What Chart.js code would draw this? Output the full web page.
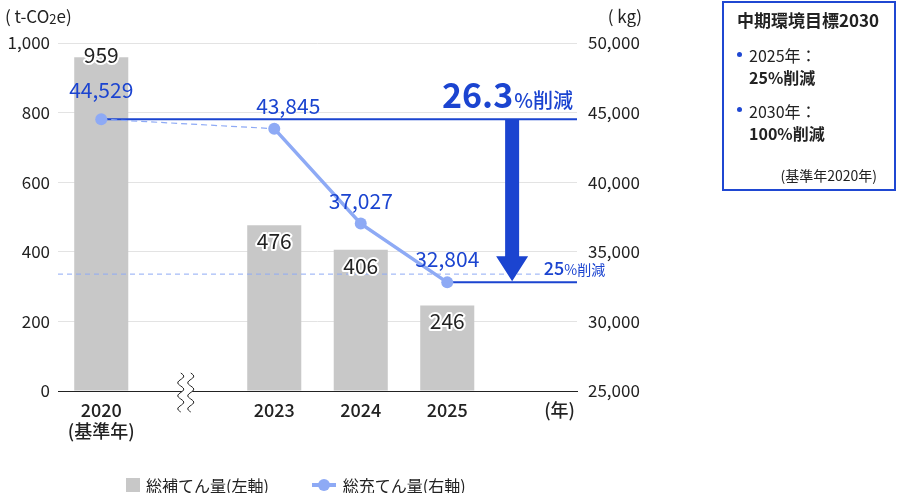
<!DOCTYPE html>
<html>
<head>
<meta charset="utf-8">
<title>総補てん量・総充てん量</title>
<script src="https://cdn.jsdelivr.net/npm/chart.js"></script>
<style>
  body { margin: 0; background: #fff; font-family: 'Noto Sans CJK JP', sans-serif; color: #222; }
  #wrap { position: relative; width: 898px; height: 493px; overflow: hidden; }
  #chart { position: absolute; left: 0; top: 0; }
  .target { position: absolute; left: 722px; top: 1px; width: 170px; height: 186px; border: 2px solid #1f47d2; }
  .target div { position: absolute; line-height: 20px; white-space: nowrap; }
  .target .ttl { left: 13px; top: 7px; font-size: 17px; font-weight: bold; }
  .target .dot { width: 5px; height: 5px; border-radius: 50%; background: #1f47d2; }
  .target .t { left: 25px; font-size: 16px; }
  .target .b { font-weight: bold; }
  .target .note { right: 17px; top: 162px; font-size: 14px; }
  #legend { position: absolute; left: 126px; top: 475px; height: 20px; display: flex; align-items: center; font-size: 16px; }
  #legend .item { display: flex; align-items: center; margin-right: 43px; }
  #legend .sq { width: 14px; height: 14px; background: #c8c8c8; margin-right: 6px; }
  #legend .ln { position: relative; width: 24px; height: 4px; background: #8eaaf5; margin-right: 7px; }
  #legend .ln::after { content: ''; position: absolute; left: 6px; top: -4px; width: 12px; height: 12px; border-radius: 50%; background: #8eaaf5; }
</style>
</head>
<body>
<div id="wrap">
  <canvas id="chart" width="898" height="493"></canvas>
  <div class="target">
    <div class="ttl">中期環境目標2030</div>
    <div class="dot" style="left:13px; top:49px;"></div>
    <div class="t" style="top:42px;">2025年：</div>
    <div class="t b" style="top:64px;">25%削減</div>
    <div class="dot" style="left:13px; top:104px;"></div>
    <div class="t" style="top:98px;">2030年：</div>
    <div class="t b" style="top:120px;">100%削減</div>
    <div class="note">(基準年2020年)</div>
  </div>
  <div id="legend"></div>
</div>

<script>
// データ
const years = ['2020', '', '2023', '2024', '2025', ''];
const yearNotes = ['(基準年)', '', '', '', '', ''];
const refill = [959, null, 476, 406, 246, null];          // 総補てん量 (t-CO2e)
const charge = [44529, null, 43845, 37027, 32804, null];  // 総充てん量 (kg)
const seriesNames = ['総補てん量(左軸)', '総充てん量(右軸)'];
const leftTicks = [0, 200, 400, 600, 800, 1000];
const rightTicks = [25000, 30000, 35000, 40000, 45000, 50000];
const targetRate = 0.25;

const FONT = "'Noto Sans CJK JP', sans-serif";
const BLUE = '#1b44d0';
const LIGHT = '#8eaaf5';
const INK = '#222';

// 凡例
const legend = document.getElementById('legend');
legend.innerHTML =
  '<div class="item"><span class="sq"></span>' + seriesNames[0] + '</div>' +
  '<div class="item"><span class="ln"></span>' + seriesNames[1] + '</div>';

const fmt = v => v.toLocaleString('en-US');

const overlay = {
  id: 'overlay',
  // 棒の上、折れ線の下に基準線を引く
  afterDatasetDraw(chart, args) {
    if (args.index !== 0) return;
    const { ctx, chartArea: a, scales: { x, y2 } } = chart;
    const base = charge[0], last = charge[4];
    const yb = y2.getPixelForValue(base);
    const yl = y2.getPixelForValue(last);
    const yt = y2.getPixelForValue(base * (1 - targetRate));
    ctx.save();
    ctx.strokeStyle = LIGHT;
    ctx.lineWidth = 1;
    ctx.setLineDash([5, 4]);
    ctx.beginPath();
    ctx.moveTo(a.left, yt);
    ctx.lineTo(x.getPixelForValue(5) + 6, yt);
    ctx.stroke();
    ctx.setLineDash([]);
    ctx.strokeStyle = BLUE;
    ctx.lineWidth = 2;
    ctx.beginPath();
    ctx.moveTo(x.getPixelForValue(0), yb);
    ctx.lineTo(a.right, yb);
    ctx.moveTo(x.getPixelForValue(4), yl);
    ctx.lineTo(a.right, yl);
    ctx.stroke();
    ctx.restore();
  },
  afterDatasetsDraw(chart) {
    const { ctx, chartArea: a } = chart;
    ctx.save();
    ctx.textAlign = 'center';
    ctx.textBaseline = 'alphabetic';
    ctx.font = '21px ' + FONT;
    // 棒の値
    chart.getDatasetMeta(0).data.forEach((el, i) => {
      if (refill[i] == null) return;
      const by = el.y < a.top + 40 ? el.y + 6 : el.y + 24;
      ctx.lineWidth = 4;
      ctx.strokeStyle = '#fff';
      ctx.lineJoin = 'round';
      ctx.strokeText(fmt(refill[i]), el.x, by);
      ctx.fillStyle = INK;
      ctx.fillText(fmt(refill[i]), el.x, by);
    });
    // 折れ線の値
    ctx.fillStyle = BLUE;
    chart.getDatasetMeta(1).data.forEach((el, i) => {
      if (charge[i] == null) return;
      const dx = i === 2 ? 14 : 0;
      const dy = i === 0 ? 21 : 15;
      ctx.fillText(fmt(charge[i]), el.x + dx, el.y - dy);
    });
    ctx.restore();
  },
  afterDraw(chart) {
    const { ctx, chartArea: a, scales: { x, y, y2 } } = chart;
    const base = charge[0], last = charge[4];
    const yb = y2.getPixelForValue(base);
    const yl = y2.getPixelForValue(last);
    const yt = y2.getPixelForValue(base * (1 - targetRate));
    ctx.save();

    // 矢印
    const ax = x.getPixelForValue(4) + 0.75 * (x.getPixelForValue(5) - x.getPixelForValue(4));
    const tip = yl - 1, headTop = yl - 26;
    ctx.fillStyle = BLUE;
    ctx.beginPath();
    ctx.moveTo(ax - 7, yb);
    ctx.lineTo(ax + 7, yb);
    ctx.lineTo(ax + 7, headTop);
    ctx.lineTo(ax + 16, headTop);
    ctx.lineTo(ax, tip);
    ctx.lineTo(ax - 16, headTop);
    ctx.lineTo(ax - 7, headTop);
    ctx.closePath();
    ctx.fill();

    // 削減率
    const pct = ((1 - last / base) * 100).toFixed(1);
    ctx.textBaseline = 'alphabetic';
    ctx.textAlign = 'right';
    ctx.font = '500 20px ' + FONT;
    const r = a.right - 4;
    ctx.fillText('%削減', r, yb - 11);
    const w1 = ctx.measureText('%削減').width;
    ctx.font = 'bold 34px ' + FONT;
    ctx.fillText(pct, r - w1 - 1, yb - 11);

    ctx.textAlign = 'left';
    ctx.font = '500 18px ' + FONT;
    const t1 = String(targetRate * 100);
    const tx = x.getPixelForValue(5) + 10;
    ctx.fillText(t1, tx, yt + 1);
    const w2 = ctx.measureText(t1).width;
    ctx.font = '14px ' + FONT;
    ctx.fillText('%削減', tx + w2, yt + 1);

    // 軸タイトル
    ctx.fillStyle = INK;
    ctx.textBaseline = 'middle';
    ctx.font = '17px ' + FONT;
    ctx.textAlign = 'left';
    let px = 5;
    ctx.fillText('( t-CO', px, 17);
    px += ctx.measureText('( t-CO').width;
    ctx.font = '13px ' + FONT;
    ctx.fillText('2', px, 19);
    px += ctx.measureText('2').width;
    ctx.font = '17px ' + FONT;
    ctx.fillText('e)', px, 17);
    ctx.textAlign = 'right';
    ctx.fillText('( kg)', y2.right, 17);
    ctx.font = '500 18px ' + FONT;
    ctx.fillText('(年)', a.right - 2, x.top + 19);

    // 省略記号
    const cx = x.getPixelForValue(1) - 2;
    const top = a.bottom - 18, bot = a.bottom + 21;
    const wave = (ox, dir) => {
      const pts = [];
      for (let yy = top; yy <= bot; yy += 1) {
        pts.push([ox + 3 * Math.sin((yy - top) / 6.5 * Math.PI), yy]);
      }
      return dir ? pts : pts.reverse();
    };
    const left = wave(cx - 5, true), right = wave(cx + 5, false);
    ctx.fillStyle = '#fff';
    ctx.beginPath();
    left.concat(right).forEach((p, i) => i ? ctx.lineTo(p[0], p[1]) : ctx.moveTo(p[0], p[1]));
    ctx.closePath();
    ctx.fill();
    ctx.strokeStyle = INK;
    ctx.lineWidth = 1;
    [left, right].forEach(pts => {
      ctx.beginPath();
      pts.forEach((p, i) => i ? ctx.lineTo(p[0], p[1]) : ctx.moveTo(p[0], p[1]));
      ctx.stroke();
    });
    ctx.restore();
  }
};

// 2020→2023 の区間(間に空きカテゴリあり)は破線
const isGapSegment = c => c.p1DataIndex === 2;

new Chart(document.getElementById('chart'), {
  data: {
    labels: years,
    datasets: [
      {
        type: 'bar',
        label: seriesNames[0],
        data: refill,
        yAxisID: 'y',
        backgroundColor: '#c8c8c8',
        barPercentage: 0.625,
        categoryPercentage: 1,
        order: 2
      },
      {
        type: 'line',
        label: seriesNames[1],
        data: charge,
        yAxisID: 'y2',
        borderColor: LIGHT,
        borderWidth: 3.5,
        pointRadius: 6,
        pointBackgroundColor: LIGHT,
        pointBorderWidth: 0,
        spanGaps: true,
        segment: {
          borderDash: c => isGapSegment(c) ? [6, 4] : undefined,
          borderWidth: c => isGapSegment(c) ? 1.2 : undefined
        },
        order: 1
      }
    ]
  },
  options: {
    responsive: false,
    animation: false,
    layout: { padding: { top: 43, right: 256, left: 0, bottom: 0 } },
    plugins: { legend: { display: false }, tooltip: { enabled: false } },
    scales: {
      x: {
        grid: { display: false, drawTicks: false },
        border: { color: INK, width: 1 },
        ticks: {
          padding: 8,
          color: INK,
          font: { family: FONT, size: 18, weight: '500' },
          maxRotation: 0,
          autoSkip: false,
          callback: (v, i) => yearNotes[i] ? [years[i], yearNotes[i]] : years[i]
        },
        afterFit: s => { s.height = 102; }
      },
      y: {
        position: 'left',
        min: 0,
        max: 1000,
        afterBuildTicks: s => { s.ticks = leftTicks.map(v => ({ value: v })); },
        grid: { color: '#e3e3e3', drawTicks: false },
        border: { display: false },
        ticks: { padding: 8, color: INK, font: { family: FONT, size: 17 }, callback: v => fmt(v) },
        afterFit: s => { s.width = 58; }
      },
      y2: {
        position: 'right',
        min: 25000,
        max: 50000,
        afterBuildTicks: s => { s.ticks = rightTicks.map(v => ({ value: v })); },
        grid: { display: false, drawTicks: false },
        border: { display: false },
        ticks: { padding: 11, color: INK, font: { family: FONT, size: 17 }, callback: v => fmt(v) },
        afterFit: s => { s.width = 65; }
      }
    }
  },
  plugins: [overlay]
});
</script>
</body>
</html>
